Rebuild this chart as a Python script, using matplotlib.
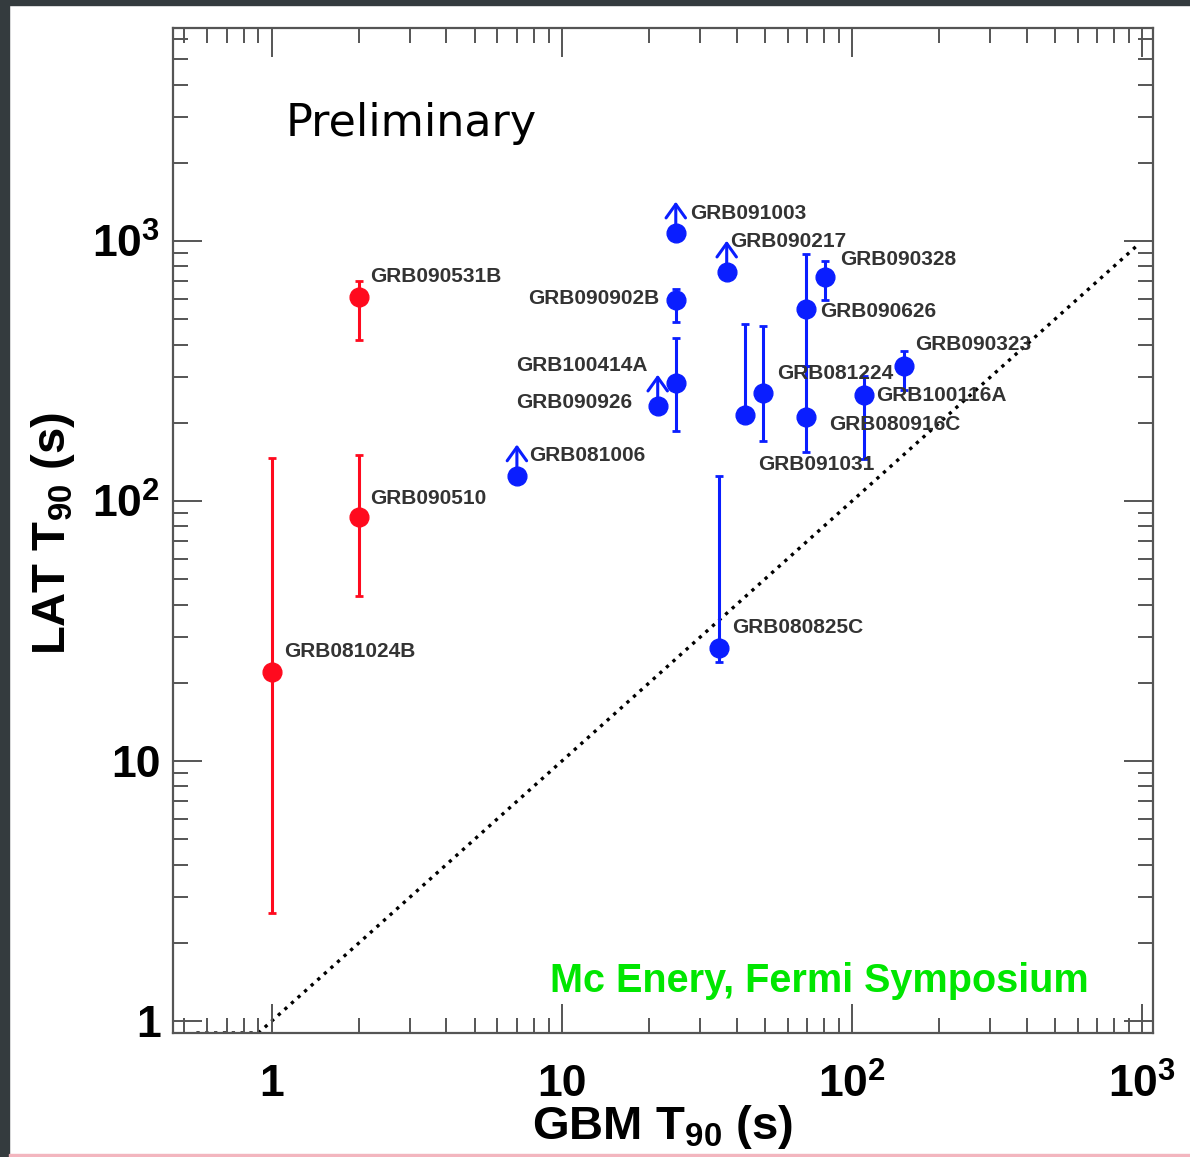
import numpy as np
import matplotlib.pyplot as plt
from matplotlib.ticker import LogLocator, FixedLocator, FixedFormatter, NullFormatter
from matplotlib.patches import Rectangle

plt.rcParams['font.family'] = ['Liberation Sans', 'DejaVu Sans']
plt.rcParams['mathtext.fontset'] = 'custom'
plt.rcParams['mathtext.rm'] = 'Liberation Sans'
plt.rcParams['mathtext.bf'] = 'Liberation Sans:bold'

# bursts with a measured LAT T90 (red)
red_names = ['GRB081024B', 'GRB090510', 'GRB090531B']
red_gbm = [1.0, 2.0, 2.0]
red_lat = [22, 87, 610]
red_lo = [2.6, 43, 415]
red_hi = [146, 150, 700]

# long bursts with error bars (blue)
blue_names = ['GRB100414A', 'GRB090902B', 'GRB080825C', 'GRB091031', 'GRB081224',
              'GRB090626', 'GRB080916C', 'GRB090328', 'GRB100116A', 'GRB090323']
blue_gbm = [24.7, 24.7, 34.8, 42.8, 49.3, 69.4, 69.4, 80.7, 110, 151]
blue_lat = [284, 593, 27.2, 214, 260, 547, 210, 727, 256, 331]
blue_lo = [186, 488, 24, 206, 170, 330, 154, 593, 145, 268]
blue_hi = [424, 652, 125, 479, 471, 890, 330, 838, 303, 379]

# lower limits (blue, arrow up)
lim_names = ['GRB081006', 'GRB090926', 'GRB091003', 'GRB090217']
lim_gbm = [7.0, 21.4, 24.7, 37]
lim_lat = [125, 232, 1074, 760]

# y = x reference line
diag_x = [0.55, 0.9, 950]
diag_y = [0.9, 0.9, 950]

x_ticks = [1, 10, 100, 1000]
x_ticklabels = ['1', '10', r'$\mathbf{10^{2}}$', r'$\mathbf{10^{3}}$']
y_ticks = [1, 10, 100, 1000]
y_ticklabels = ['1', '10', r'$\mathbf{10^{2}}$', r'$\mathbf{10^{3}}$']

# label placement: offset in pixels from the point, alignment
label_pos = {
    'GRB081024B': (12, 21, 'left'),
    'GRB090510': (11, 18, 'left'),
    'GRB090531B': (11, 20, 'left'),
    'GRB100414A': (-28, 18, 'right'),
    'GRB090902B': (-16, 2, 'right'),
    'GRB080825C': (13, 21, 'left'),
    'GRB091031': (13, -49, 'left'),
    'GRB081224': (14, 20, 'left'),
    'GRB090626': (14, -2, 'left'),
    'GRB080916C': (23, -7, 'left'),
    'GRB090328': (15, 18, 'left'),
    'GRB100116A': (12, -1, 'left'),
    'GRB090323': (11, 21, 'left'),
    'GRB081006': (12, 20, 'left'),
    'GRB090926': (-25, 4, 'right'),
    'GRB091003': (14, 20, 'left'),
    'GRB090217': (3, 31, 'left'),
}

RED = '#ff0a1e'
BLUE = '#0a1eff'
GREY = '#555555'

fig = plt.figure(figsize=(11.9, 11.57), dpi=100)
ax = fig.add_axes([0.1454, 0.1072, 0.8235, 0.8686])
ax.set_xscale('log')
ax.set_yscale('log')
ax.set_xlim(0.457, 1090)
ax.set_ylim(0.9, 6600)

ax.plot(diag_x, diag_y, color='black', ls=':', lw=2.4, zorder=1)

err_kw = dict(fmt='o', ms=13.5, elinewidth=2.2, capsize=2.8, capthick=2, zorder=3)
r_lat = np.array(red_lat)
ax.errorbar(red_gbm, r_lat, yerr=[r_lat - np.array(red_lo), np.array(red_hi) - r_lat],
            color=RED, **err_kw)
b_lat = np.array(blue_lat)
ax.errorbar(blue_gbm, b_lat, yerr=[b_lat - np.array(blue_lo), np.array(blue_hi) - b_lat],
            color=BLUE, **err_kw)
ax.plot(lim_gbm, lim_lat, 'o', ms=13.5, color=BLUE, zorder=3)
for x, y in zip(lim_gbm, lim_lat):
    ax.annotate('', xy=(x, y * 1.32), xytext=(x, y),
                arrowprops=dict(arrowstyle='->,head_length=0.7,head_width=0.5',
                                color=BLUE, lw=2.2, mutation_scale=14,
                                shrinkA=0, shrinkB=0), zorder=3)

all_names = red_names + blue_names + lim_names
all_x = red_gbm + blue_gbm + lim_gbm
all_y = red_lat + blue_lat + lim_lat
for name, x, y in zip(all_names, all_x, all_y):
    dx, dy, ha = label_pos[name]
    ax.annotate(name, xy=(x, y), xytext=(dx, dy), textcoords='offset pixels',
                ha=ha, va='center', fontsize=15, fontweight='bold', color='#333333',
                zorder=4)

ax.text(0.115, 0.905, 'Preliminary', transform=ax.transAxes, fontsize=32,
        family='DejaVu Sans', color='black', ha='left', va='center')
ax.text(0.385, 0.052, 'Mc Enery, Fermi Symposium', transform=ax.transAxes,
        fontsize=28.5, fontweight='bold', color='#00e600', ha='left', va='center')

# axes, ticks
ax.xaxis.set_major_locator(FixedLocator(x_ticks))
ax.xaxis.set_major_formatter(FixedFormatter(x_ticklabels))
ax.yaxis.set_major_locator(FixedLocator(y_ticks))
ax.yaxis.set_major_formatter(FixedFormatter(y_ticklabels))
for axis in (ax.xaxis, ax.yaxis):
    axis.set_minor_locator(LogLocator(base=10, subs=np.arange(2, 10), numticks=20))
    axis.set_minor_formatter(NullFormatter())
ax.tick_params(which='both', direction='in', top=True, right=True, color=GREY, width=1.4)
ax.tick_params(which='major', length=21, labelsize=32)
ax.tick_params(which='minor', length=11)
ax.tick_params(axis='x', which='major', pad=22)
ax.tick_params(axis='y', which='major', pad=9)
for lab in ax.get_xticklabels() + ax.get_yticklabels():
    lab.set_fontweight('bold')
for sp in ax.spines.values():
    sp.set_color(GREY)
    sp.set_linewidth(1.6)

ax.set_xlabel(r'GBM T$_{\mathbf{90}}$ (s)', fontsize=34, fontweight='bold')
ax.set_ylabel(r'LAT T$_{\mathbf{90}}$ (s)', fontsize=34, fontweight='bold')
ax.xaxis.set_label_coords(0.5, -0.07)
ax.yaxis.set_label_coords(-0.098, 0.497)

# dark slide frame on the left/top, thin pink line at the bottom
fig.patches.append(Rectangle((0, 0), 9 / 1190, 1, transform=fig.transFigure,
                             color='#343b3e', zorder=0))
fig.patches.append(Rectangle((0, 1 - 5 / 1157), 1, 5 / 1157, transform=fig.transFigure,
                             color='#343b3e', zorder=0))
fig.patches.append(Rectangle((9 / 1190, 0), 1, 3 / 1157, transform=fig.transFigure,
                             color='#f3b6bf', zorder=0))

fig.savefig('out.png', dpi=100)
